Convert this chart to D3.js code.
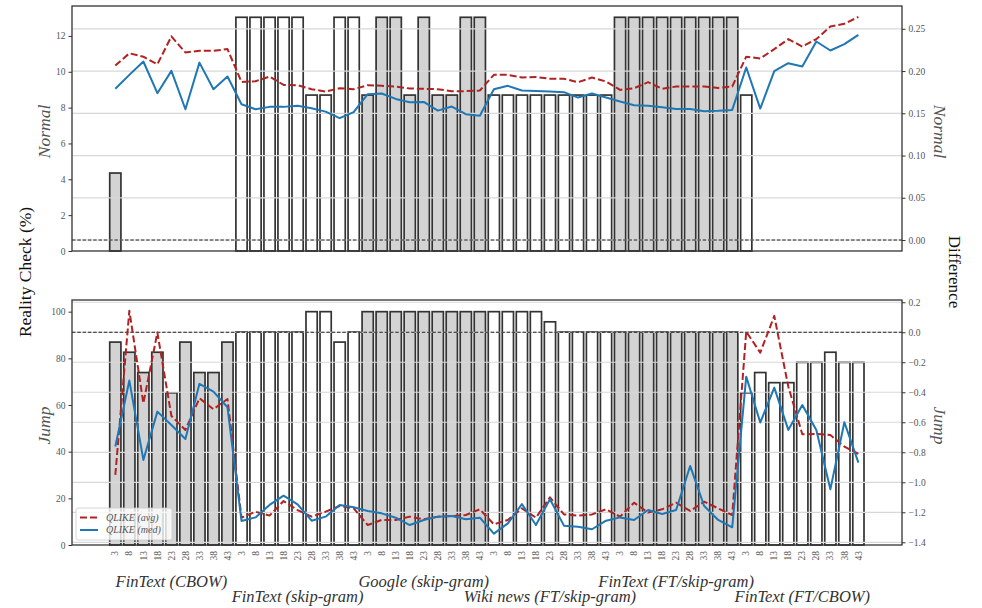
<!DOCTYPE html>
<html><head><meta charset="utf-8">
<script src="https://cdn.jsdelivr.net/npm/d3@7"></script>
<style>body{margin:0;background:#fff}</style>
</head><body>
<svg id="c" width="982" height="608"></svg>
<script>
// ---------- data ----------
const windows = [3,8,13,18,23,28,33,38,43];
const groups = ["FinText (CBOW)","FinText (skip-gram)","Google (skip-gram)","Wiki news (FT/skip-gram)","FinText (FT/skip-gram)","FinText (FT/CBOW)"];

// Reality check (%) – Normal panel (bars, left axis)
const normalBars = [
  4.35,0,0,0,0,0,0,0,0,
  13.04,13.04,13.04,13.04,13.04,8.70,8.70,13.04,13.04,
  8.70,13.04,13.04,8.70,13.04,8.70,8.70,13.04,13.04,
  8.70,8.70,8.70,8.70,8.70,8.70,8.70,8.70,8.70,
  13.04,13.04,13.04,13.04,13.04,13.04,13.04,13.04,13.04,
  8.70,0,0,0,0,0,0,0,0
];
// Difference – Normal panel (lines, right axis)
const normalAvg = [
  0.2065,0.221,0.217,0.208,0.241,0.222,0.224,0.224,0.226,
  0.187,0.188,0.1935,0.1836,0.1833,0.1785,0.1757,0.1797,0.1785,
  0.1833,0.1825,0.1817,0.1793,0.179,0.1785,0.1762,0.1762,0.177,
  0.1955,0.1955,0.1923,0.193,0.1908,0.1908,0.1868,0.1923,0.1876,
  0.1777,0.1797,0.1868,0.179,0.1817,0.1817,0.1817,0.18,0.1817,
  0.217,0.2148,0.226,0.2378,0.229,0.2378,0.2528,0.256,0.264
];
const normalMed = [
  0.179,0.1955,0.2113,0.1738,0.2002,0.1548,0.21,0.1785,0.1935,
  0.1607,0.1548,0.1576,0.1576,0.159,0.156,0.152,0.1442,0.1513,
  0.1726,0.1734,0.167,0.1631,0.1635,0.1532,0.158,0.1489,0.147,
  0.1785,0.1825,0.177,0.1765,0.1757,0.175,0.1686,0.1734,0.1686,
  0.1639,0.1596,0.1588,0.1572,0.1552,0.1552,0.1525,0.153,0.154,
  0.2042,0.1556,0.1998,0.2093,0.2054,0.235,0.2243,0.2318,0.2429
];
// Reality check (%) – Jump panel
const jumpBars = [
  86.96,82.61,73.91,82.61,65.22,86.96,73.91,73.91,86.96,
  91.30,91.30,91.30,91.30,91.30,100,100,86.96,91.30,
  100,100,100,100,100,100,100,100,100,
  100,100,100,100,95.65,91.30,91.30,91.30,91.30,
  91.30,91.30,91.30,91.30,91.30,91.30,91.30,91.30,91.30,
  65.22,73.91,69.57,69.57,78.26,78.26,82.61,78.26,78.26
];
// Difference – Jump panel
const jumpAvg = [
  -0.951,0.144,-0.473,-0.002,-0.558,-0.651,-0.44,-0.513,-0.445,
  -1.236,-1.196,-1.222,-1.125,-1.185,-1.229,-1.196,-1.158,-1.173,
  -1.285,-1.251,-1.251,-1.229,-1.247,-1.229,-1.225,-1.218,-1.18,
  -1.28,-1.251,-1.174,-1.236,-1.1,-1.214,-1.222,-1.214,-1.18,
  -1.229,-1.136,-1.202,-1.18,-1.136,-1.191,-1.129,-1.174,-1.218,
  0.004,-0.136,0.109,-0.362,-0.68,-0.678,-0.685,-0.762,-0.811
];
const jumpMed = [
  -0.762,-0.322,-0.851,-0.529,-0.618,-0.711,-0.344,-0.396,-0.5,
  -1.258,-1.234,-1.151,-1.089,-1.147,-1.256,-1.229,-1.151,-1.167,
  -1.191,-1.207,-1.236,-1.285,-1.251,-1.229,-1.225,-1.247,-1.236,
  -1.342,-1.274,-1.145,-1.285,-1.113,-1.289,-1.296,-1.313,-1.256,
  -1.234,-1.251,-1.185,-1.211,-1.185,-0.891,-1.158,-1.251,-1.3,
  -0.296,-0.602,-0.369,-0.651,-0.485,-0.651,-1.047,-0.6,-0.869
];
const normalLeftTicks = [0,2,4,6,8,10,12];
const normalRightTicks = [0,0.05,0.10,0.15,0.20,0.25];
const jumpLeftTicks = [0,20,40,60,80,100];
const jumpRightTicks = [-1.4,-1.2,-1.0,-0.8,-0.6,-0.4,-0.2,0.0,0.2];
const seriesNames = ["QLIKE (avg)","QLIKE (med)"];

// ---------- drawing ----------
const svg = d3.select("#c");
const FONT = "'Liberation Serif','DejaVu Serif',serif";
const RED = "#b22222", BLUE = "#1f77b4";
const x = d3.scaleLinear().domain([-3.09, 56.11]).range([72, 902]);
const bw = x(0.8) - x(0);

function panel(o) {
  const g = svg.append("g");
  const yL = d3.scaleLinear().domain(o.lDom).range([o.y1, o.y0]);
  const yR = d3.scaleLinear().domain(o.rDom).range([o.y1, o.y0]);
  // bars
  g.selectAll("rect.bar").data(o.bars.map((v,i)=>({v,i})).filter(d=>d.v>0))
    .enter().append("rect")
    .attr("x", d=>x(d.i)-bw/2).attr("width", bw)
    .attr("y", d=>yL(d.v)).attr("height", d=>yL(0)-yL(d.v))
    .attr("fill", d=>(Math.floor(d.i/windows.length)%2===0)?"#d3d3d3":"#ffffff")
    .attr("stroke","#333").attr("stroke-width",1.7);
  // grid (right axis)
  g.selectAll("line.grid").data(o.rTicks).enter().append("line")
    .attr("x1",72).attr("x2",902).attr("y1",d=>yR(d)).attr("y2",d=>yR(d))
    .attr("stroke","#d8d8d8").attr("stroke-width",1.2);
  // zero dashed line
  g.append("line").attr("x1",72).attr("x2",902).attr("y1",yR(0)).attr("y2",yR(0))
    .attr("stroke","#222").attr("stroke-width",1).attr("stroke-dasharray","3.5,1.8");
  // lines
  const line = d3.line().x((d,i)=>x(i)).y(d=>yR(d));
  g.append("path").datum(o.avg).attr("d",line).attr("fill","none")
    .attr("stroke",RED).attr("stroke-width",2).attr("stroke-dasharray","7,3")
    .attr("stroke-linejoin","round");
  g.append("path").datum(o.med).attr("d",line).attr("fill","none")
    .attr("stroke",BLUE).attr("stroke-width",2).attr("stroke-linejoin","round");
  // frame
  g.append("rect").attr("x",72).attr("y",o.y0).attr("width",830).attr("height",o.y1-o.y0)
    .attr("fill","none").attr("stroke","#333").attr("stroke-width",1.3);
  // axes
  const aL = g.append("g").attr("transform","translate(72,0)")
    .call(d3.axisLeft(yL).tickValues(o.lTicks).tickSize(3.5).tickPadding(3).tickFormat(d3.format("d")));
  const aR = g.append("g").attr("transform","translate(902,0)")
    .call(d3.axisRight(yR).tickValues(o.rTicks).tickSize(3.5).tickPadding(3).tickFormat(d3.format(o.rFmt)));
  [aL,aR].forEach(a=>{
    a.select(".domain").remove();
    a.selectAll(".tick line").attr("stroke","#333");
    a.selectAll(".tick text").attr("font-family",FONT).attr("font-size",9.5).attr("fill","#555");
  });
  // panel labels
  const cy = (o.y0+o.y1)/2;
  svg.append("text").attr("transform",`translate(44,${cy+3}) rotate(-90)`)
    .attr("text-anchor","middle").attr("dominant-baseline","central")
    .attr("font-family",FONT).attr("font-style","italic").attr("font-size",17.5).attr("fill","#555")
    .text(o.label);
  svg.append("text").attr("transform",`translate(940,${cy+3}) rotate(90)`)
    .attr("text-anchor","middle").attr("dominant-baseline","central")
    .attr("font-family",FONT).attr("font-style","italic").attr("font-size",17.5).attr("fill","#555")
    .text(o.label);
  return {yL,yR};
}

panel({y0:6,y1:251,lDom:[0,13.67],rDom:[-0.013,0.277],bars:normalBars,avg:normalAvg,med:normalMed,
       lTicks:normalLeftTicks,rTicks:normalRightTicks,rFmt:".2f",label:"Normal"});
panel({y0:300,y1:545,lDom:[0,105],rDom:[-1.418,0.215],bars:jumpBars,avg:jumpAvg,med:jumpMed,
       lTicks:jumpLeftTicks,rTicks:jumpRightTicks,rFmt:".1f",label:"Jump"});

// x tick labels (rotated)
const cats = [];
groups.forEach((gname,gi)=>windows.forEach((w,wi)=>cats.push({w,i:gi*windows.length+wi})));
svg.append("g").selectAll("text").data(cats).enter().append("text")
  .attr("transform",d=>`translate(${x(d.i)},551) rotate(-90)`)
  .attr("text-anchor","end").attr("dy","0.33em")
  .attr("font-family",FONT).attr("font-size",9.5).attr("fill","#555")
  .text(d=>d.w);
// group labels
svg.append("g").selectAll("text").data(groups).enter().append("text")
  .attr("x",(d,gi)=>x(gi*windows.length+(windows.length-1)/2))
  .attr("y",(d,gi)=>gi%2===0?587:602)
  .attr("text-anchor","middle").attr("font-family",FONT).attr("font-style","italic")
  .attr("font-size",16.5).attr("fill","#333").text(d=>d);

// shared axis titles
svg.append("text").attr("transform","translate(25,272) rotate(-90)")
  .attr("text-anchor","middle").attr("dominant-baseline","central")
  .attr("font-family",FONT).attr("font-size",17.5).attr("fill","#111").text("Reality Check (%)");
svg.append("text").attr("transform","translate(954,272) rotate(90)")
  .attr("text-anchor","middle").attr("dominant-baseline","central")
  .attr("font-family",FONT).attr("font-size",17).attr("fill","#111").text("Difference");

// legend
const lg = svg.append("g");
lg.append("rect").attr("x",76).attr("y",508).attr("width",96).attr("height",32).attr("rx",2.5)
  .attr("fill","#fff").attr("fill-opacity",0.8).attr("stroke","#ccc").attr("stroke-width",0.8);
[[RED,"7,3"],[BLUE,null]].forEach((s,k)=>{
  const yy = 517.5 + k*12.5;
  const l = lg.append("line").attr("x1",80).attr("x2",98).attr("y1",yy).attr("y2",yy)
    .attr("stroke",s[0]).attr("stroke-width",2);
  if (s[1]) l.attr("stroke-dasharray",s[1]);
  lg.append("text").attr("x",106).attr("y",yy).attr("dy","0.33em")
    .attr("font-family",FONT).attr("font-style","italic").attr("font-size",10).attr("fill","#555")
    .text(seriesNames[k]);
});
</script>
</body></html>
